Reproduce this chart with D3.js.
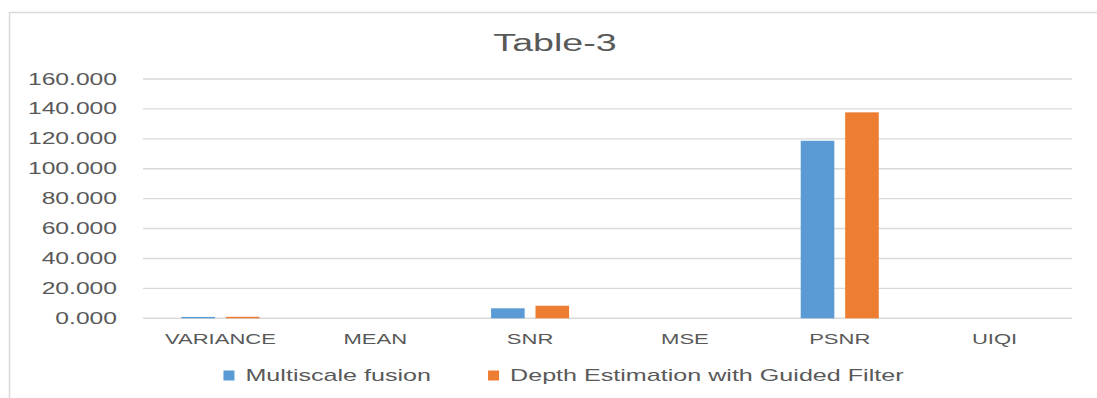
<!DOCTYPE html>
<html>
<head>
<meta charset="utf-8">
<script src="https://cdn.jsdelivr.net/npm/d3@7"></script>
<style>
  html, body { margin: 0; padding: 0; background: #fff; }
  svg { display: block; }
  text { font-family: "Liberation Sans", Arial, sans-serif; fill: #595959; }
</style>
</head>
<body>
<svg id="chart" width="1097" height="398"></svg>
<script>
// Quality metrics compared for the two methods
const categories = ["VARIANCE", "MEAN", "SNR", "MSE", "PSNR", "UIQI"];
const seriesNames = ["Multiscale fusion", "Depth Estimation with Guided Filter"];
const multiscaleFusion = [0.9, 0.01, 6.7, 0.01, 118.7, 0.01];
const guidedFilter = [1.0, 0.01, 8.4, 0.01, 137.7, 0.01];
const yTicks = [0, 20, 40, 60, 80, 100, 120, 140, 160];
const seriesColors = ["#5B9BD5", "#ED7D31"];

const values = [multiscaleFusion, guidedFilter];
const svg = d3.select("#chart");
const W = 1097, H = 398;
const STRETCH = 1.52; // wide lettering of the sheet chart

const plot = { left: 143, right: 1072, top: 79, bottom: 318.3 };

// chart frame edges
svg.append("line").attr("x1", 9).attr("x2", W).attr("y1", 12.5).attr("y2", 12.5)
  .attr("stroke", "#d9d9d9").attr("stroke-width", 1.5);
svg.append("line").attr("x1", 9.5).attr("x2", 9.5).attr("y1", 12).attr("y2", H)
  .attr("stroke", "#d9d9d9").attr("stroke-width", 1.5);

// text helper with horizontal stretch
function stretchedText(parent, x, y, str, size, anchor, sx) {
  return parent.append("text")
    .attr("transform", `translate(${x},${y}) scale(${sx || STRETCH},1)`)
    .attr("text-anchor", anchor)
    .style("font-size", size + "px")
    .text(str);
}

const x0 = d3.scaleBand().domain(categories).range([plot.left, plot.right]).padding(0);
const bw = x0.bandwidth();
const x1 = d3.scaleBand().domain(d3.range(seriesNames.length))
  .range([0.248 * bw, 0.752 * bw]).paddingInner(0.244).paddingOuter(0);
const y = d3.scaleLinear().domain([0, 160]).range([plot.bottom, plot.top]);

// horizontal gridlines
svg.append("g").selectAll("line").data(yTicks).join("line")
  .attr("x1", plot.left).attr("x2", plot.right)
  .attr("y1", d => y(d)).attr("y2", d => y(d))
  .attr("stroke", "#d9d9d9").attr("stroke-width", 1.4);

// y tick labels
const fmt = d3.format(".3f");
const yg = svg.append("g");
yTicks.forEach(t => stretchedText(yg, 117, y(t) + 5.5, fmt(t), 16, "end", 1.54));

// bars
const groups = svg.append("g").selectAll("g").data(categories).join("g")
  .attr("transform", d => `translate(${x0(d)},0)`);
groups.selectAll("rect")
  .data((c, ci) => values.map((s, si) => ({ si, v: s[ci] })))
  .join("rect")
  .attr("x", d => x1(d.si))
  .attr("width", x1.bandwidth())
  .attr("y", d => y(d.v))
  .attr("height", d => y(0) - y(d.v))
  .attr("fill", d => seriesColors[d.si]);

// category labels
const xg = svg.append("g");
categories.forEach(c => stretchedText(xg, x0(c) + bw / 2, 343.5, c, 14.5, "middle"));

// title
stretchedText(svg, 555, 50.5, "Table-3", 23.5, "middle", 1.6);

// legend
const LEG_STRETCH = 1.57;
const lg = svg.append("g");
const sq = 11, gapText = 11, gapItem = 57;
const items = seriesNames.map((name, i) => {
  const t = stretchedText(lg, 0, 381, name, 16, "start", LEG_STRETCH);
  return { t, w: t.node().getComputedTextLength() * LEG_STRETCH, i };
});
const total = d3.sum(items, d => sq + gapText + d.w) + gapItem * (items.length - 1);
let cx = 563.5 - total / 2;
items.forEach(d => {
  lg.append("rect").attr("x", cx).attr("y", 370.5).attr("width", sq).attr("height", 10)
    .attr("fill", seriesColors[d.i]);
  d.t.attr("transform", `translate(${cx + sq + gapText},381) scale(${LEG_STRETCH},1)`);
  cx += sq + gapText + d.w + gapItem;
});
</script>
</body>
</html>
